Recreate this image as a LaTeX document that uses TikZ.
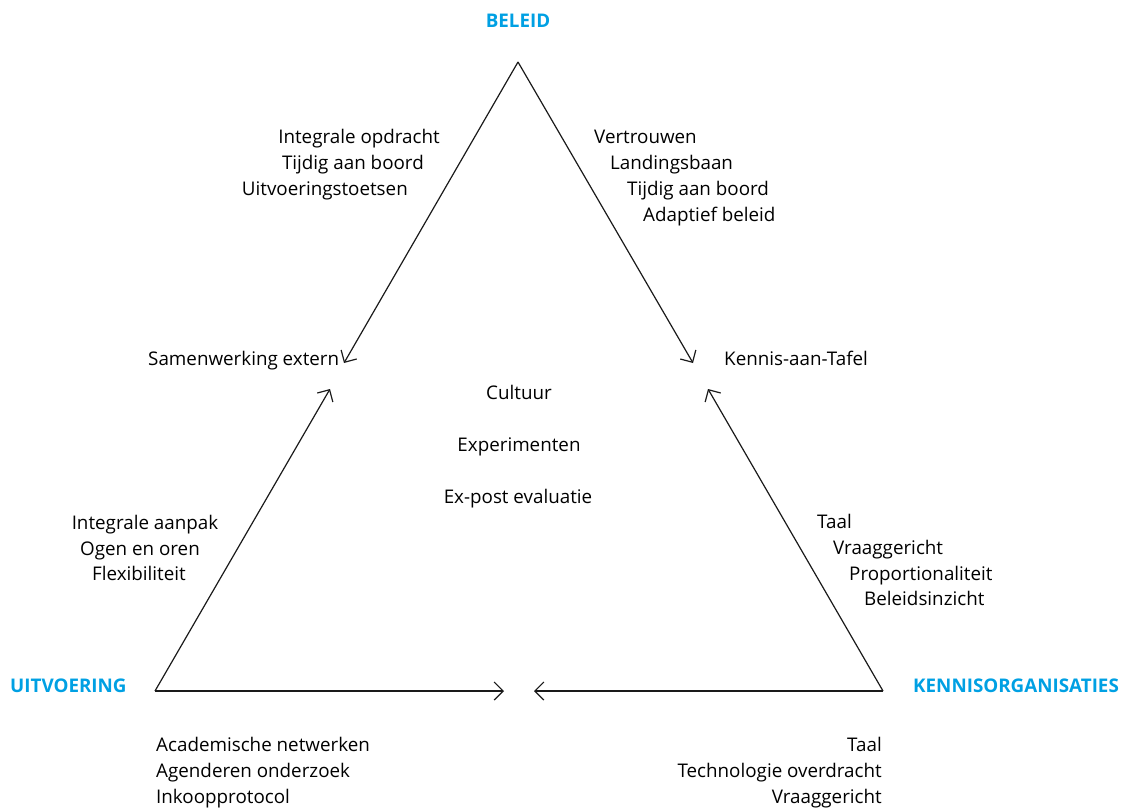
\documentclass[tikz,border=0pt]{standalone}
\usepackage{fontspec}
\setmainfont{Open Sans}
\usetikzlibrary{arrows.meta}
\definecolor{cornerblue}{HTML}{00A0E3}
\definecolor{edgeblack}{HTML}{1A1A1A}

\begin{document}
\begin{tikzpicture}[x=1pt, y=-1pt, >={Straight Barb[length=9pt, width=18pt]},
    every node/.style={inner sep=0pt, font=\fontsize{18.8}{22}\selectfont},
    corner/.style={text=cornerblue, font=\fontsize{18.8}{22}\selectfont\bfseries},
    edge/.style={->, line width=1.2pt, edgeblack}]
  \useasboundingbox (0,0) rectangle (1127,808);

  % hoekpunten en pijlpunten
  \coordinate (top) at (518,62);
  \coordinate (left) at (155,691);
  \coordinate (right) at (883,691);
  \coordinate (tl) at (344,363);
  \coordinate (tr) at (693,363);
  \coordinate (lt) at (330,389);
  \coordinate (rt) at (708,389);
  \coordinate (bl) at (504,691);
  \coordinate (br) at (534,691);

  \draw[edge] (top) -- (tl);
  \draw[edge] (top) -- (tr);
  \draw[edge] (left) -- (lt);
  \draw[edge] (right) -- (rt);
  \draw[edge] (left) -- (bl);
  \draw[edge] (right) -- (br);

  \node[corner] (beleid) at (518,21) {BELEID};
  \node[corner, anchor=west] (uitv) at (10,686) {UITVOERING};
  \node[corner, anchor=west] (kennis) at (913,686) {KENNISORGANISATIES};

  \node[anchor=mid east] (ul1) at (440,141) {Integrale opdracht};
  \node[anchor=mid east] (ul2) at (424,167) {Tijdig aan boord};
  \node[anchor=mid east] (ul3) at (408,193) {Uitvoeringstoetsen};

  \node[anchor=mid west] (ur1) at (594,141) {Vertrouwen};
  \node[anchor=mid west] (ur2) at (610,167) {Landingsbaan};
  \node[anchor=mid west] (ur3) at (627,193) {Tijdig aan boord};
  \node[anchor=mid west] (ur4) at (643,219) {Adaptief beleid};

  \node[anchor=mid west] (samen) at (148,363) {Samenwerking extern};
  \node[anchor=mid west] (kat) at (724,363) {Kennis-aan-Tafel};

  \node[anchor=mid] (mid1) at (519,397) {Cultuur};
  \node[anchor=mid] (mid2) at (519,449) {Experimenten};
  \node[anchor=mid] (mid3) at (518,501) {Ex-post evaluatie};

  \node[anchor=mid] (ll1) at (145,527) {Integrale aanpak};
  \node[anchor=mid] (ll2) at (140,553) {Ogen en oren};
  \node[anchor=mid] (ll3) at (139,578) {Flexibiliteit};

  \node[anchor=mid west] (lr1) at (817,526) {Taal};
  \node[anchor=mid west] (lr2) at (833,552) {Vraaggericht};
  \node[anchor=mid west] (lr3) at (849,578) {Proportionaliteit};
  \node[anchor=mid west] (lr4) at (864,603) {Beleidsinzicht};

  \node[anchor=mid west] (bl1) at (156,749) {Academische netwerken};
  \node[anchor=mid west] (bl2) at (156,775) {Agenderen onderzoek};
  \node[anchor=mid west] (bl3) at (156,801) {Inkoopprotocol};

  \node[anchor=mid east] (br1) at (882,749) {Taal};
  \node[anchor=mid east] (br2) at (882,775) {Technologie overdracht};
  \node[anchor=mid east] (br3) at (882,801) {Vraaggericht};
\end{tikzpicture}
\end{document}
